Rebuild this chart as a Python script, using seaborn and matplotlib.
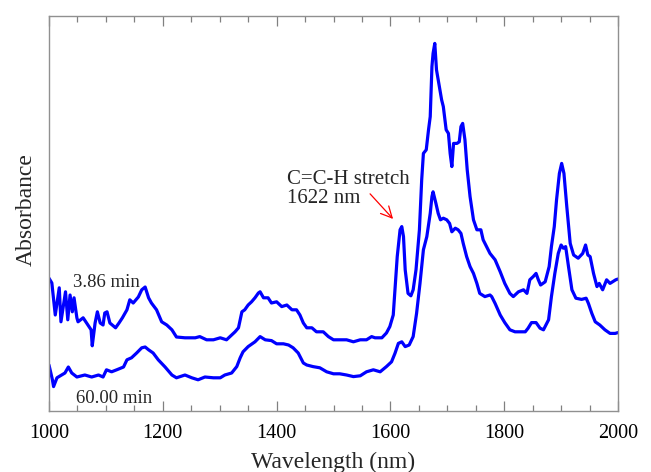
import numpy as np
import pandas as pd
import matplotlib
matplotlib.use("Agg")
import matplotlib.pyplot as plt
import seaborn as sns
from matplotlib.ticker import MultipleLocator

# ---- data ----
wl_early = [1000, 1005, 1011, 1018, 1021, 1029, 1033, 1037, 1041, 1044, 1049, 1051, 1060, 1066, 1074, 1076,
            1081, 1085, 1090, 1095, 1098, 1102, 1107, 1117, 1123, 1129, 1137, 1142, 1148, 1157, 1163, 1169,
            1175, 1180, 1189, 1198, 1207, 1216, 1224, 1239, 1257, 1265, 1277, 1289, 1301, 1312, 1321, 1327,
            1333, 1339, 1344, 1350, 1356, 1362, 1368, 1371, 1377, 1385, 1391, 1400, 1409, 1418, 1427, 1435,
            1441, 1447, 1453, 1462, 1470, 1482, 1491, 1500, 1511, 1523, 1535, 1547, 1558, 1567, 1573, 1585,
            1593, 1599, 1605, 1608, 1612, 1617, 1620, 1623, 1626, 1631, 1636, 1640, 1645, 1651, 1655, 1658,
            1663, 1667, 1670, 1673, 1675, 1678, 1681, 1686, 1690, 1693, 1698, 1702, 1705, 1708, 1711, 1717,
            1721, 1724, 1727, 1731, 1735, 1740, 1746, 1752, 1759, 1763, 1769, 1775, 1784, 1793, 1801, 1810,
            1816, 1825, 1834, 1840, 1845, 1851, 1856, 1860, 1864, 1872, 1879, 1883, 1888, 1892, 1897, 1901,
            1905, 1910, 1916, 1922, 1930, 1938, 1943, 1947, 1951, 1957, 1963, 1967, 1973, 1980, 1986, 1996,
            2000]
abs_early = [0.332, 0.320, 0.240, 0.308, 0.223, 0.298, 0.228, 0.290, 0.248, 0.283, 0.233, 0.223, 0.233, 0.220, 0.203, 0.163,
             0.220, 0.248, 0.220, 0.215, 0.245, 0.248, 0.220, 0.208, 0.220, 0.233, 0.253, 0.278, 0.270, 0.285, 0.303, 0.310,
             0.283, 0.270, 0.253, 0.223, 0.215, 0.203, 0.185, 0.183, 0.183, 0.186, 0.178, 0.178, 0.183, 0.178, 0.190, 0.198,
             0.208, 0.248, 0.253, 0.265, 0.273, 0.283, 0.295, 0.298, 0.283, 0.283, 0.270, 0.273, 0.261, 0.265, 0.253, 0.253,
             0.240, 0.220, 0.208, 0.208, 0.198, 0.198, 0.186, 0.178, 0.178, 0.178, 0.173, 0.178, 0.178, 0.186, 0.183, 0.183,
             0.195, 0.211, 0.240, 0.303, 0.386, 0.453, 0.461, 0.436, 0.353, 0.294, 0.288, 0.303, 0.353, 0.453, 0.578, 0.644,
             0.653, 0.703, 0.736, 0.861, 0.894, 0.919, 0.853, 0.811, 0.778, 0.761, 0.703, 0.694, 0.644, 0.611, 0.669, 0.669,
             0.673, 0.711, 0.719, 0.678, 0.603, 0.536, 0.478, 0.453, 0.453, 0.428, 0.411, 0.394, 0.378, 0.348, 0.319, 0.294,
             0.286, 0.298, 0.303, 0.294, 0.328, 0.336, 0.344, 0.328, 0.315, 0.323, 0.361, 0.411, 0.461, 0.528, 0.594, 0.619,
             0.594, 0.511, 0.419, 0.390, 0.382, 0.394, 0.415, 0.390, 0.386, 0.344, 0.311, 0.319, 0.303, 0.328, 0.319, 0.328,
             0.330]

wl_late = [1000, 1006, 1008, 1014, 1022, 1028, 1034, 1040, 1049, 1063, 1075, 1087, 1095, 1101, 1110, 1119,
           1131, 1137, 1145, 1154, 1163, 1169, 1175, 1183, 1192, 1204, 1216, 1224, 1239, 1251, 1262, 1274,
           1289, 1301, 1309, 1321, 1330, 1336, 1341, 1350, 1362, 1371, 1380, 1391, 1400, 1412, 1421, 1429,
           1438, 1447, 1453, 1464, 1476, 1488, 1500, 1511, 1523, 1535, 1547, 1558, 1570, 1582, 1593, 1602,
           1608, 1614, 1620, 1626, 1633, 1640, 1646, 1652, 1658, 1664, 1670, 1673, 1675, 1680, 1684, 1688,
           1693, 1699, 1704, 1708, 1714, 1719, 1724, 1728, 1734, 1740, 1746, 1752, 1757, 1766, 1775, 1778,
           1784, 1793, 1801, 1810, 1819, 1828, 1837, 1842, 1848, 1856, 1863, 1869, 1878, 1883, 1889, 1895,
           1900, 1904, 1908, 1913, 1919, 1926, 1936, 1944, 1948, 1954, 1960, 1968, 1977, 1986, 1995, 2000]
abs_late = [0.115, 0.078, 0.061, 0.083, 0.090, 0.095, 0.110, 0.095, 0.085, 0.090, 0.085, 0.090, 0.085, 0.103, 0.098, 0.103,
            0.110, 0.128, 0.133, 0.145, 0.158, 0.160, 0.153, 0.145, 0.128, 0.110, 0.090, 0.083, 0.090, 0.083, 0.078, 0.085,
            0.083, 0.083, 0.090, 0.095, 0.111, 0.133, 0.148, 0.161, 0.173, 0.186, 0.178, 0.176, 0.168, 0.168, 0.165, 0.158,
            0.145, 0.120, 0.115, 0.111, 0.108, 0.098, 0.093, 0.093, 0.090, 0.086, 0.088, 0.098, 0.103, 0.098, 0.111, 0.123,
            0.144, 0.169, 0.173, 0.161, 0.165, 0.186, 0.244, 0.319, 0.403, 0.436, 0.494, 0.536, 0.548, 0.519, 0.494, 0.478,
            0.482, 0.478, 0.469, 0.448, 0.457, 0.453, 0.444, 0.419, 0.386, 0.361, 0.344, 0.319, 0.294, 0.286, 0.290, 0.286,
            0.269, 0.240, 0.221, 0.203, 0.198, 0.198, 0.198, 0.207, 0.221, 0.221, 0.207, 0.203, 0.228, 0.286, 0.344, 0.394,
            0.415, 0.407, 0.411, 0.361, 0.303, 0.282, 0.279, 0.282, 0.269, 0.244, 0.223, 0.215, 0.203, 0.194, 0.194, 0.196]

series_labels = ["3.86 min", "60.00 min"]
x_ticks = [1000, 1200, 1400, 1600, 1800, 2000]
annot_text = "C=C-H stretch\n1622 nm"

# ---- plot ----
sns.set_style("white")
plt.rcParams["font.family"] = ["Liberation Serif", "DejaVu Serif"]

df = pd.concat([
    pd.DataFrame({"Wavelength": wl_early, "Absorbance": abs_early, "t": series_labels[0]}),
    pd.DataFrame({"Wavelength": wl_late, "Absorbance": abs_late, "t": series_labels[1]}),
], ignore_index=True)

fig = plt.figure(figsize=(6.51, 4.72), dpi=100)
ax = fig.add_axes([49 / 651, 1 - 411 / 472, (618 - 49) / 651, (411 - 16) / 472])

sns.lineplot(data=df, x="Wavelength", y="Absorbance", hue="t", units="t", estimator=None,
             palette=["#0000ff", "#0000ff"], linewidth=2.3, legend=False, ax=ax)

ax.set_xlim(1000, 2000)
ax.set_ylim(0, 0.9875)
ax.set_xticks(x_ticks)
ax.set_xticklabels([str(t) for t in x_ticks])
ax.xaxis.set_minor_locator(MultipleLocator(50))
ax.set_yticks([])
ax.tick_params(axis="x", which="both", direction="in", top=True, bottom=True,
               colors="#808080", labelcolor="black", labelsize=14.5, pad=9)
ax.tick_params(axis="x", which="major", length=7, width=0.9)
ax.tick_params(axis="x", which="minor", length=4, width=0.9)
for s in ax.spines.values():
    s.set_color("#909090")
    s.set_linewidth(1.0)

ax.set_xlabel("Wavelength (nm)", fontsize=17, labelpad=7)
ax.set_ylabel("Absorbance", fontsize=17)
ax.yaxis.set_label_coords(-0.021, 0.51)

ax.text(1042, 0.322, series_labels[0], fontsize=13.5, va="center", ha="left")
ax.text(1047, 0.031, series_labels[1], fontsize=13.5, va="center", ha="left")
ax.text(1419, 0.555, annot_text, fontsize=15, va="center", ha="left", linespacing=1.05)
ax.annotate("", xy=(1608, 0.475), xytext=(1561, 0.548),
            arrowprops=dict(arrowstyle="->", color="red", lw=0.9, mutation_scale=20))

fig.savefig("out.png", dpi=100)
